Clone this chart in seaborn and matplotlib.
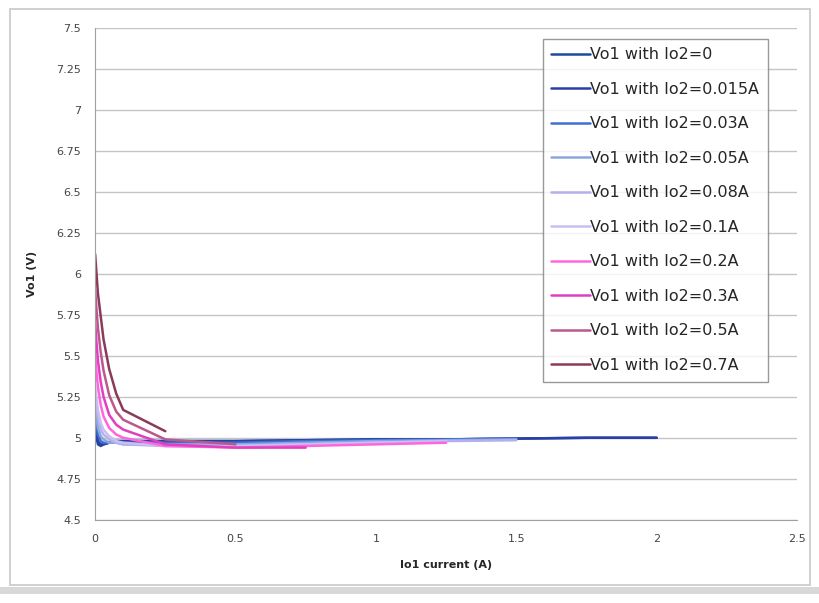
import numpy as np
import pandas as pd
import matplotlib.pyplot as plt
import seaborn as sns
from matplotlib.patches import Rectangle

# io1 current steps (A)
io1 = [0, 0.005, 0.01, 0.02, 0.03, 0.05, 0.075, 0.1, 0.25, 0.5, 0.75, 1.0, 1.25, 1.5, 1.75, 2.0]

series_names = ["Vo1 with Io2=0", "Vo1 with Io2=0.015A", "Vo1 with Io2=0.03A",
                "Vo1 with Io2=0.05A", "Vo1 with Io2=0.08A", "Vo1 with Io2=0.1A",
                "Vo1 with Io2=0.2A", "Vo1 with Io2=0.3A", "Vo1 with Io2=0.5A",
                "Vo1 with Io2=0.7A"]

vo1_io2_0 = [5.05, 5.00, 4.96, 4.95, 4.96, 4.97, 4.98, 4.98, 4.98, 4.98, 4.985, 4.99, 4.99, 4.995, 5.0, 5.0]
vo1_io2_0015 = [5.08, 5.03, 4.98, 4.96, 4.96, 4.97, 4.98, 4.98, 4.98, 4.98, 4.985, 4.99, 4.99, 4.995, 5.0, 5.0]
vo1_io2_003 = [5.12, 5.07, 5.02, 4.98, 4.97, 4.97, 4.97, 4.97, 4.97, 4.97, 4.98, 4.985, 4.99, 4.995]
vo1_io2_005 = [5.18, 5.12, 5.06, 5.01, 4.99, 4.97, 4.97, 4.96, 4.96, 4.96, 4.97, 4.98, 4.985, 4.99]
vo1_io2_008 = [5.25, 5.18, 5.12, 5.05, 5.02, 4.99, 4.97, 4.96, 4.95, 4.95, 4.96, 4.97, 4.98, 4.985]
vo1_io2_01 = [5.32, 5.24, 5.17, 5.09, 5.05, 5.01, 4.98, 4.97, 4.95, 4.95, 4.96, 4.97, 4.98]
vo1_io2_02 = [5.50, 5.40, 5.31, 5.20, 5.13, 5.06, 5.02, 5.00, 4.95, 4.94, 4.95, 4.96, 4.97]
vo1_io2_03 = [5.70, 5.58, 5.47, 5.34, 5.25, 5.14, 5.08, 5.05, 4.96, 4.94, 4.94]
vo1_io2_05 = [5.90, 5.78, 5.67, 5.52, 5.41, 5.26, 5.16, 5.11, 4.99, 4.96]
vo1_io2_07 = [6.12, 6.00, 5.88, 5.74, 5.60, 5.42, 5.27, 5.17, 5.04]

all_series = [vo1_io2_0, vo1_io2_0015, vo1_io2_003, vo1_io2_005, vo1_io2_008,
              vo1_io2_01, vo1_io2_02, vo1_io2_03, vo1_io2_05, vo1_io2_07]

colors = ["#1f4a9c", "#2b3fa8", "#3f6fd0", "#8aa6e0", "#b3b0ec",
          "#c9bff2", "#ff66dd", "#e040c0", "#b85a8c", "#8c3a5a"]

rows = []
for name, vals in zip(series_names, all_series):
    for x, v in zip(io1, vals):
        rows.append({"io1": x, "vo1": v, "series": name})
df = pd.DataFrame(rows)

sns.set_style("white")
fig = plt.figure(figsize=(8.2, 6.03), dpi=100)
ax = fig.add_axes([0.116, 0.138, 0.856, 0.816])

sns.lineplot(data=df, x="io1", y="vo1", hue="series", hue_order=series_names,
             palette=colors, linewidth=1.8, sort=False, estimator=None, ax=ax)

ax.set_xlim(0, 2.5)
ax.set_ylim(4.5, 7.5)
xt = [0, 0.5, 1, 1.5, 2, 2.5]
ax.set_xticks(xt)
ax.set_xticklabels(["0", "0.5", "1", "1.5", "2", "2.5"], fontsize=8, color="#444444")
yt = np.arange(4.5, 7.51, 0.25)
ax.set_yticks(yt)
ax.set_yticklabels([f"{v:g}" for v in yt], fontsize=8, color="#444444")
ax.yaxis.grid(True, color="#c4c4c4", linewidth=1)
ax.xaxis.grid(False)
for s in ["top", "right"]:
    ax.spines[s].set_visible(False)
for s in ["left", "bottom"]:
    ax.spines[s].set_color("#a0a0a0")
ax.tick_params(axis="both", length=4, color="#a0a0a0", direction="out", pad=6)

ax.set_xlabel("Io1 current (A)", fontsize=8, fontweight="bold", labelpad=12)
ax.set_ylabel("Vo1 (V)", fontsize=8, fontweight="bold", labelpad=14)

leg = ax.legend(loc="upper right", bbox_to_anchor=(0.959, 0.978), borderaxespad=0,
                fontsize=11.5, frameon=True, fancybox=False, edgecolor="#808080",
                handlelength=2.4, handletextpad=0.05, labelspacing=1.22,
                borderpad=0.55, title=None)
leg.get_frame().set_linewidth(1.0)

# outer chart frame and bottom strip
fig.patches.append(Rectangle((0.012, 0.03), 0.976, 0.955, transform=fig.transFigure,
                             fill=False, edgecolor="#c8c8c8", linewidth=1.2))
fig.patches.append(Rectangle((0.0, 0.015), 1.0, 0.012, transform=fig.transFigure,
                             facecolor="#d8d8d8", edgecolor="none"))

fig.savefig("out.png", dpi=100)
